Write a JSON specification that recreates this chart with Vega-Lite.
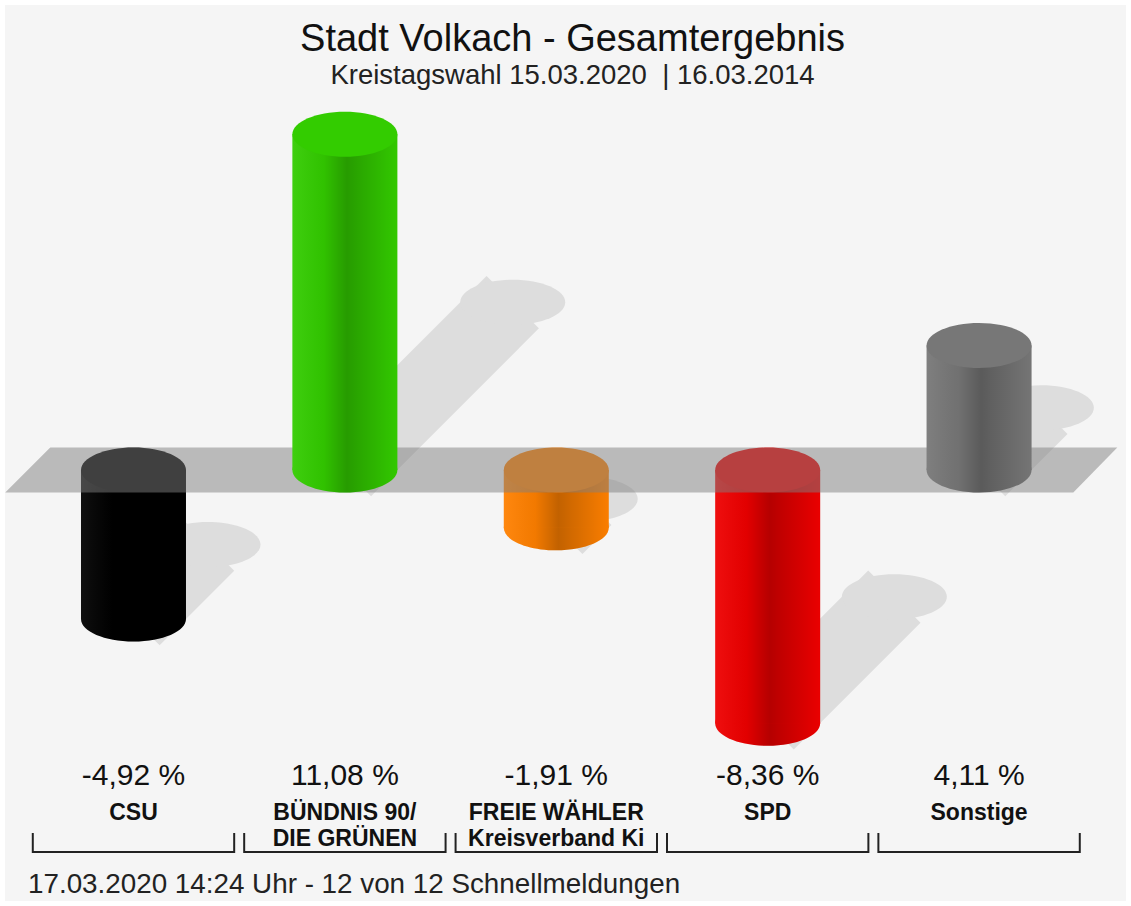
{
  "$schema": "https://vega.github.io/schema/vega-lite/v6.json",
  "width": 1121,
  "height": 896,
  "padding": 5,
  "autosize": {"type": "none"},
  "background": "#ffffff",
  "title": {
    "text": "Stadt Volkach - Gesamtergebnis",
    "subtitle": "Kreistagswahl 15.03.2020\u00a0 | 16.03.2014",
    "anchor": "middle",
    "frame": "group",
    "offset": -84,
    "dx": 7,
    "font": "Liberation Sans",
    "fontSize": 38,
    "fontWeight": "normal",
    "color": "#111111",
    "subtitleFont": "Liberation Sans",
    "subtitleFontSize": 27.5,
    "subtitleColor": "#222222",
    "subtitlePadding": 3
  },
  "data": {
    "values": [
      {"party": "CSU", "name": "CSU", "change": -4.92},
      {"party": "BÜNDNIS 90/DIE GRÜNEN", "name": "BÜNDNIS 90/\nDIE GRÜNEN", "change": 11.08},
      {"party": "FREIE WÄHLER", "name": "FREIE WÄHLER\nKreisverband Ki", "change": -1.91},
      {"party": "SPD", "name": "SPD", "change": -8.36},
      {"party": "Sonstige", "name": "Sonstige", "change": 4.11}
    ]
  },
  "layer": [
    {
      "transform": [{"filter": "datum.change > 0"}],
      "mark": {"type": "rule", "color": "#dddddd", "strokeWidth": 74, "strokeCap": "butt",
               "xOffset": {"expr": "abs(scale('y', 0) - scale('y', datum.change)) * 0.5"},
               "yOffset": {"expr": "(scale('y', 0) - scale('y', datum.change)) * 0.5"}},
      "encoding": {
        "x": {"field": "party", "type": "nominal", "sort": null, "axis": null,
              "scale": {"domain": ["CSU", "BÜNDNIS 90/DIE GRÜNEN", "FREIE WÄHLER", "SPD", "Sonstige"], "paddingInner": 0, "paddingOuter": 0.1514, "align": 0.356}},
        "y": {"field": "change", "type": "quantitative", "axis": null,
              "scale": {"domain": [-14.2244, 15.3465], "nice": false, "zero": false}},
        "x2": {"field": "party"},
        "y2": {"datum": 0}
      }
    },
    {
      "transform": [{"filter": "datum.change < 0"}],
      "mark": {"type": "rule", "color": "#dddddd", "strokeWidth": 74, "strokeCap": "butt",
               "xOffset": {"expr": "abs(scale('y', 0) - scale('y', datum.change)) * 0.5"},
               "yOffset": {"expr": "(scale('y', 0) - scale('y', datum.change)) * 0.5"}},
      "encoding": {
        "x": {"field": "party", "type": "nominal"},
        "y": {"field": "change", "type": "quantitative"},
        "x2": {"field": "party"},
        "y2": {"field": "change"}
      }
    },
    {
      "mark": {"type": "point", "shape": "M -1 0 A 1 0.4286 0 1 1 1 0 A 1 0.4286 0 1 1 -1 0 Z", "size": 11025, "filled": true, "opacity": 1, "color": "#dddddd", "strokeWidth": 0,
               "xOffset": {"expr": "abs(scale('y', 0) - scale('y', datum.change)) * 0.5"},
               "yOffset": {"expr": "(scale('y', 0) - scale('y', datum.change)) * 0.5"}},
      "encoding": {
        "x": {"field": "party", "type": "nominal"},
        "y": {"field": "change", "type": "quantitative"}
      }
    },
    {
      "transform": [{"filter": "datum.change < 0"}],
      "mark": {"type": "point", "shape": "M -1 0 A 1 0.4286 0 1 1 1 0 A 1 0.4286 0 1 1 -1 0 Z", "size": 11025, "filled": true, "opacity": 1, "strokeWidth": 0},
      "encoding": {
        "x": {"field": "party", "type": "nominal"},
        "y": {"field": "change", "type": "quantitative"},
        "color": {"field": "party", "type": "nominal", "legend": null,
                  "scale": {"domain": ["CSU", "BÜNDNIS 90/DIE GRÜNEN", "FREIE WÄHLER", "SPD", "Sonstige"], "range": ["#000000", "#33cc00", "#ff8000", "#ee0000", "#777777"]}}
      }
    },
    {
      "transform": [{"filter": "datum.change < 0"}],
      "mark": {"type": "point", "shape": "M -1 0 A 1 0.4286 0 1 1 1 0 A 1 0.4286 0 1 1 -1 0 Z", "size": 11025, "filled": true, "opacity": 1, "strokeWidth": 0,
               "color": {"gradient": "linear", "x1": 0, "x2": 1, "y1": 0, "y2": 0, "stops": [
                 {"offset": 0, "color": "rgba(255,255,255,0.06)"},
                 {"offset": 0.3, "color": "rgba(0,0,0,0.05)"},
                 {"offset": 0.52, "color": "rgba(0,0,0,0.24)"},
                 {"offset": 0.64, "color": "rgba(0,0,0,0.18)"},
                 {"offset": 1, "color": "rgba(0,0,0,0.02)"}]}},
      "encoding": {
        "x": {"field": "party", "type": "nominal"},
        "y": {"field": "change", "type": "quantitative"}
      }
    },
    {
      "transform": [{"filter": "datum.change < 0"}],
      "mark": {"type": "bar", "width": 105},
      "encoding": {
        "x": {"field": "party", "type": "nominal"},
        "y": {"field": "change", "type": "quantitative"},
        "y2": {"datum": 0},
        "color": {"field": "party", "type": "nominal"}
      }
    },
    {
      "transform": [{"filter": "datum.change < 0"}],
      "mark": {"type": "bar", "width": 105,
               "color": {"gradient": "linear", "x1": 0, "x2": 1, "y1": 0, "y2": 0, "stops": [
                 {"offset": 0, "color": "rgba(255,255,255,0.06)"},
                 {"offset": 0.3, "color": "rgba(0,0,0,0.05)"},
                 {"offset": 0.52, "color": "rgba(0,0,0,0.24)"},
                 {"offset": 0.64, "color": "rgba(0,0,0,0.18)"},
                 {"offset": 1, "color": "rgba(0,0,0,0.02)"}]}},
      "encoding": {
        "x": {"field": "party", "type": "nominal"},
        "y": {"field": "change", "type": "quantitative"},
        "y2": {"datum": 0}
      }
    },
    {
      "transform": [{"filter": "datum.change < 0"}],
      "mark": {"type": "point", "shape": "M -1 0 A 1 0.4286 0 1 1 1 0 A 1 0.4286 0 1 1 -1 0 Z", "size": 11025, "filled": true, "opacity": 1, "strokeWidth": 0},
      "encoding": {
        "x": {"field": "party", "type": "nominal"},
        "y": {"datum": 0},
        "color": {"field": "party", "type": "nominal"}
      }
    },
    {
      "data": {"values": [{"plane": "Nulllinie"}]},
      "mark": {"type": "point", "shape": "M -0.9929 0.0402 L 0.9143 0.0402 L 0.9929 -0.0402 L -0.9125 -0.0402 Z", "size": 1254400, "filled": true, "opacity": 0.5, "color": "#808080", "strokeWidth": 0, "xOffset": 5},
      "encoding": {
        "x": {"datum": "FREIE WÄHLER"},
        "y": {"datum": 0}
      }
    },
    {
      "transform": [{"filter": "datum.change > 0"}],
      "mark": {"type": "point", "shape": "M -1 0 A 1 0.4286 0 1 1 1 0 A 1 0.4286 0 1 1 -1 0 Z", "size": 11025, "filled": true, "opacity": 1, "strokeWidth": 0},
      "encoding": {
        "x": {"field": "party", "type": "nominal"},
        "y": {"datum": 0},
        "color": {"field": "party", "type": "nominal"}
      }
    },
    {
      "transform": [{"filter": "datum.change > 0"}],
      "mark": {"type": "point", "shape": "M -1 0 A 1 0.4286 0 1 1 1 0 A 1 0.4286 0 1 1 -1 0 Z", "size": 11025, "filled": true, "opacity": 1, "strokeWidth": 0,
               "color": {"gradient": "linear", "x1": 0, "x2": 1, "y1": 0, "y2": 0, "stops": [
                 {"offset": 0, "color": "rgba(255,255,255,0.06)"},
                 {"offset": 0.3, "color": "rgba(0,0,0,0.05)"},
                 {"offset": 0.52, "color": "rgba(0,0,0,0.24)"},
                 {"offset": 0.64, "color": "rgba(0,0,0,0.18)"},
                 {"offset": 1, "color": "rgba(0,0,0,0.02)"}]}},
      "encoding": {
        "x": {"field": "party", "type": "nominal"},
        "y": {"datum": 0}
      }
    },
    {
      "transform": [{"filter": "datum.change > 0"}],
      "mark": {"type": "bar", "width": 105},
      "encoding": {
        "x": {"field": "party", "type": "nominal"},
        "y": {"field": "change", "type": "quantitative"},
        "y2": {"datum": 0},
        "color": {"field": "party", "type": "nominal"}
      }
    },
    {
      "transform": [{"filter": "datum.change > 0"}],
      "mark": {"type": "bar", "width": 105,
               "color": {"gradient": "linear", "x1": 0, "x2": 1, "y1": 0, "y2": 0, "stops": [
                 {"offset": 0, "color": "rgba(255,255,255,0.06)"},
                 {"offset": 0.3, "color": "rgba(0,0,0,0.05)"},
                 {"offset": 0.52, "color": "rgba(0,0,0,0.24)"},
                 {"offset": 0.64, "color": "rgba(0,0,0,0.18)"},
                 {"offset": 1, "color": "rgba(0,0,0,0.02)"}]}},
      "encoding": {
        "x": {"field": "party", "type": "nominal"},
        "y": {"field": "change", "type": "quantitative"},
        "y2": {"datum": 0}
      }
    },
    {
      "transform": [{"filter": "datum.change > 0"}],
      "mark": {"type": "point", "shape": "M -1 0 A 1 0.4286 0 1 1 1 0 A 1 0.4286 0 1 1 -1 0 Z", "size": 11025, "filled": true, "opacity": 1, "strokeWidth": 0},
      "encoding": {
        "x": {"field": "party", "type": "nominal"},
        "y": {"field": "change", "type": "quantitative"},
        "color": {"field": "party", "type": "nominal"}
      }
    },
    {
      "mark": {"type": "text", "font": "Liberation Sans", "fontSize": 30, "color": "#111111", "align": "center", "baseline": "alphabetic",
               "text": {"expr": "replace(replace(format(datum.change, '.2f'), '.', ','), '\u2212', '-') + ' %'"}},
      "encoding": {
        "x": {"field": "party", "type": "nominal"},
        "y": {"datum": -10.396}
      }
    },
    {
      "mark": {"type": "text", "font": "Liberation Sans", "fontSize": 23, "fontWeight": "bold", "color": "#111111", "align": "center", "baseline": "alphabetic", "lineBreak": "\n", "lineHeight": 26},
      "encoding": {
        "x": {"field": "party", "type": "nominal"},
        "y": {"datum": -11.551},
        "text": {"field": "name", "type": "nominal"}
      }
    },
    {
      "mark": {"type": "tick", "size": 201, "thickness": 2, "color": "#222222", "opacity": 1},
      "encoding": {
        "x": {"field": "party", "type": "nominal"},
        "y": {"datum": -12.607}
      }
    },
    {
      "mark": {"type": "rule", "strokeWidth": 2, "color": "#222222", "xOffset": 5},
      "encoding": {
        "x": {"field": "party", "type": "nominal", "bandPosition": 0},
        "y": {"datum": -11.98},
        "y2": {"datum": -12.64}
      }
    },
    {
      "mark": {"type": "rule", "strokeWidth": 2, "color": "#222222", "xOffset": -5},
      "encoding": {
        "x": {"field": "party", "type": "nominal", "bandPosition": 1},
        "y": {"datum": -11.98},
        "y2": {"datum": -12.64}
      }
    },
    {
      "data": {"values": [{"note": "17.03.2020 14:24 Uhr - 12 von 12 Schnellmeldungen"}]},
      "mark": {"type": "text", "font": "Liberation Sans", "fontSize": 27.8, "color": "#222222", "align": "left", "baseline": "alphabetic", "dx": -105.5},
      "encoding": {
        "x": {"datum": "CSU"},
        "y": {"datum": -13.96},
        "text": {"field": "note", "type": "nominal"}
      }
    }
  ],
  "config": {
    "view": {"stroke": null, "fill": "#f5f5f5"},
    "font": "Liberation Sans",
    "axis": {"disable": true}
  }
}
